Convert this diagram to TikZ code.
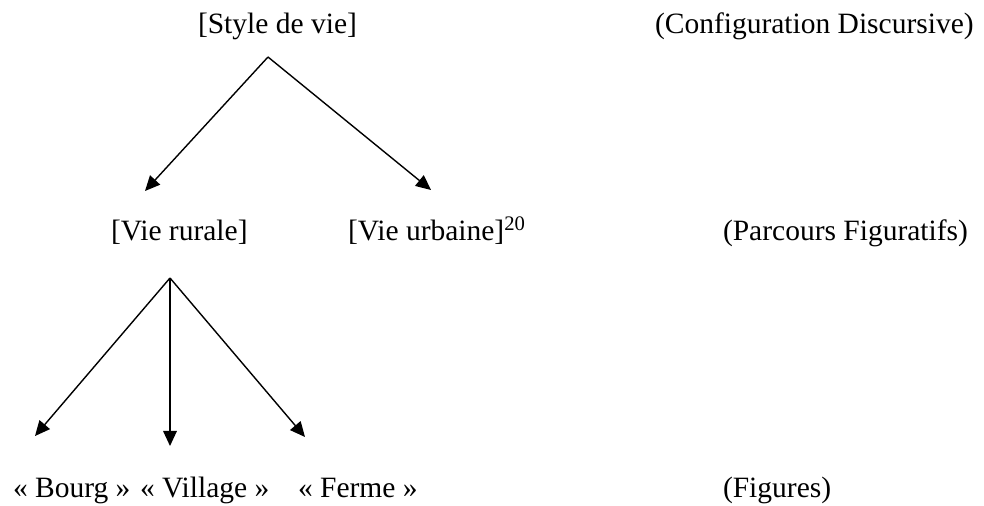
\documentclass[tikz,border=0pt]{standalone}
\usepackage{fontspec}
\setmainfont{Liberation Serif}
\usetikzlibrary{arrows.meta}

\tikzset{
  label/.style={anchor=base west, inner sep=0pt, outer sep=0pt,
                font=\fontsize{14.75}{17}\selectfont},
  branch/.style={line width=0.7pt,
                 -{Triangle[length=7.5pt,width=6.8pt]}}
}

\begin{document}
\begin{tikzpicture}[x=0.5pt, y=-0.5pt]
  \useasboundingbox (0,0) rectangle (984,506);

  % level 1: discursive configuration
  \node[label] (style)  at (198,34)  {[Style de vie]};
  \node[label] (config) at (655,34)  {(Configuration Discursive)};

  % level 2: figurative paths
  \node[label] (rurale)  at (111,241) {[Vie rurale]};
  \node[label] (urbaine) at (348,241) {[Vie urbaine]\textsuperscript{20}};
  \node[label] (parcours) at (723,241) {(Parcours Figuratifs)};

  % level 3: figures
  \node[label] (bourg)   at (13,498)  {« Bourg »};
  \node[label] (village) at (140,498) {« Village »};
  \node[label] (ferme)   at (298,498) {« Ferme »};
  \node[label] (figures) at (723,498) {(Figures)};

  % branching points and arrow ends
  \coordinate (top)    at (268,57);
  \coordinate (topL)   at (145,191);
  \coordinate (topR)   at (431,190);
  \coordinate (mid)    at (170,278);
  \coordinate (midL)   at (35,436);
  \coordinate (midC)   at (170,446);
  \coordinate (midR)   at (305,437);

  \draw[branch] (top) -- (topL);
  \draw[branch] (top) -- (topR);
  \draw[branch] (mid) -- (midL);
  \draw[branch] (mid) -- (midC);
  \draw[branch] (mid) -- (midR);
\end{tikzpicture}
\end{document}
